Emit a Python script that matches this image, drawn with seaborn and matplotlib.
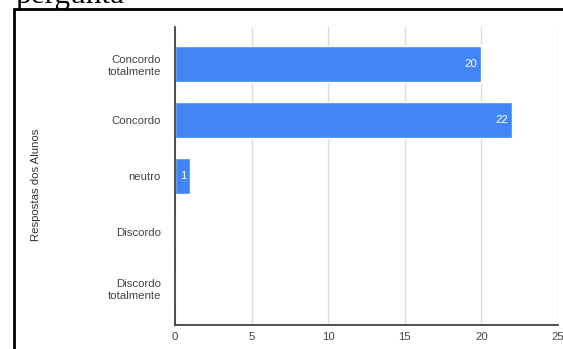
import matplotlib
matplotlib.use("Agg")
import matplotlib.pyplot as plt
import seaborn as sns
import pandas as pd
from matplotlib.lines import Line2D

categories = ["Concordo\ntotalmente", "Concordo", "neutro", "Discordo", "Discordo\ntotalmente"]
values = [20, 22, 1, 0, 0]
x_ticks = [0, 5, 10, 15, 20, 25]
y_label = "Respostas dos Alunos"

df = pd.DataFrame({"resposta": categories, "alunos": values})

sns.set_style("white")
plt.rcParams['font.family'] = ['Liberation Sans', 'DejaVu Sans']

W, H = 563, 349
fig = plt.figure(figsize=(W / 100, H / 100), dpi=100)
ax = fig.add_axes([175 / W, 24 / H, (558 - 175) / W, (325 - 27) / H])

sns.barplot(data=df, y="resposta", x="alunos", orient="h", color="#4285F4",
            saturation=1, width=0.63, ax=ax)

fs = 8.2
ax.set_xlim(0, 25)
ax.set_ylim(4.66, -0.66)
ax.set_xticks(x_ticks)
ax.set_xticklabels([str(t) for t in x_ticks])
ax.grid(axis="x", color="#dcdcdc", linewidth=1)
ax.set_axisbelow(True)
for s in ["top", "right"]:
    ax.spines[s].set_visible(False)
ax.spines["left"].set_color("#333333")
ax.spines["bottom"].set_color("#333333")
ax.spines["left"].set_linewidth(1.2)
ax.spines["bottom"].set_linewidth(1.2)
ax.tick_params(axis="y", length=6, width=1, color="#333333", labelsize=fs,
               labelcolor="#444444", pad=4)
ax.tick_params(axis="x", length=0, labelsize=fs, labelcolor="#444444", pad=5)
ax.set_xlabel("")
ax.set_ylabel(y_label, fontsize=fs, color="#333333", labelpad=0)
ax.yaxis.set_label_coords(-(175 - 41) / (558 - 175), 0.47)
for lbl in ax.get_yticklabels():
    lbl.set_horizontalalignment("right")
    lbl.set_multialignment("right")

for i, v in enumerate(values):
    if v > 0:
        ax.annotate(str(v), xy=(v, i), xytext=(-3, 0), textcoords="offset points",
                    ha="right", va="center", color="white", fontsize=fs)

# framing border and clipped caption from the source document
fig.add_artist(Line2D([14 / W, 14 / W], [0, 1 - 9 / H], color="black", linewidth=2))
fig.add_artist(Line2D([14 / W, 1], [1 - 9 / H, 1 - 9 / H], color="black", linewidth=2))
fig.text(15 / W, 1 - 3.5 / H, "pergunta", family="Liberation Serif", fontsize=22.5,
         va="baseline", ha="left", color="black")

fig.savefig("out.png", dpi=100)
